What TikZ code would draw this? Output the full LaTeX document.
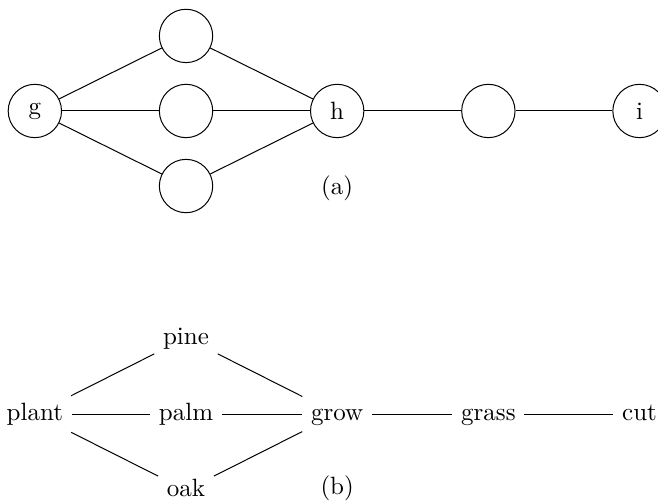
\documentclass[tikz,border=0pt]{standalone}
\usepackage{amsmath}
\tikzset{
	vertex/.style={draw,circle,minimum size=0.75cm,inner sep=0pt},
	word/.style={text height=1.5ex,text depth=0.25ex}
}

\begin{document}
\begin{tikzpicture}
	\useasboundingbox (-0.49,1.56) rectangle (8.76,-5.5);

	% (a) the graph
	\node[vertex] (g) at (0,0) {g};
	\node[vertex] (up) at (2.125,1.055) {};
	\node[vertex] (mid) at (2.125,0) {};
	\node[vertex] (low) at (2.125,-1.055) {};
	\node[vertex] (h) at (4.25,0) {h};
	\node[vertex] (hi) at (6.375,0) {};
	\node[vertex] (i) at (8.5,0) {i};

	\foreach \n in {up,mid,low}
		\draw (g) -- (\n) -- (h);
	\draw (h) -- (hi) -- (i);

	\node at (4.25,-1.08) {(a)};

	% (b) the same graph with words
	\node[word] (plant) at (0,-4.26) {plant};
	\node[word] (pine) at (2.125,-3.19) {pine};
	\node[word] (palm) at (2.125,-4.26) {palm};
	\node[word] (oak) at (2.125,-5.33) {oak};
	\node[word] (grow) at (4.25,-4.26) {grow};
	\node[word] (grass) at (6.375,-4.26) {grass};
	\node[word] (cut) at (8.5,-4.26) {cut};

	\foreach \n in {pine,palm,oak}
		\draw (plant) -- (\n) -- (grow);
	\draw (grow) -- (grass) -- (cut);

	\node at (4.25,-5.3) {(b)};
\end{tikzpicture}
\end{document}
